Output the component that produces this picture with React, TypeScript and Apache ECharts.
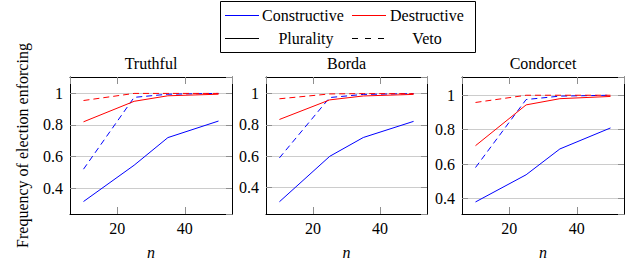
import React, { useEffect, useRef } from "react";
import * as echarts from "echarts";

const nValues = [10, 25, 35, 50];
const panelTitles = ["Truthful", "Borda", "Condorcet"];

const truthfulConstructivePlurality = [0.315, 0.545, 0.72, 0.825];
const truthfulConstructiveVeto = [0.52, 0.975, 0.995, 1.0];
const truthfulDestructivePlurality = [0.82, 0.95, 0.985, 0.995];
const truthfulDestructiveVeto = [0.955, 1.0, 1.0, 1.0];

const bordaConstructivePlurality = [0.31, 0.6, 0.72, 0.823];
const bordaConstructiveVeto = [0.59, 0.975, 0.995, 1.0];
const bordaDestructivePlurality = [0.835, 0.96, 0.985, 0.995];
const bordaDestructiveVeto = [0.967, 0.998, 1.0, 1.0];

const condorcetConstructivePlurality = [0.38, 0.538, 0.688, 0.81];
const condorcetConstructiveVeto = [0.58, 0.975, 0.995, 1.0];
const condorcetDestructivePlurality = [0.707, 0.944, 0.98, 0.993];
const condorcetDestructiveVeto = [0.958, 1.0, 1.0, 1.0];

const panelData = [
  [truthfulConstructivePlurality, truthfulConstructiveVeto, truthfulDestructivePlurality, truthfulDestructiveVeto],
  [bordaConstructivePlurality, bordaConstructiveVeto, bordaDestructivePlurality, bordaDestructiveVeto],
  [condorcetConstructivePlurality, condorcetConstructiveVeto, condorcetDestructivePlurality, condorcetDestructiveVeto],
];

const yRanges = [
  [0.236, 1.104],
  [0.232, 1.106],
  [0.31, 1.106],
];
const xRange = [6, 54];

const legendLabels = ["Constructive", "Destructive", "Plurality", "Veto"];

const FONT = "Liberation Serif";
const BLUE = "#0000ff";
const RED = "#ff0000";
const DASH = [6, 4];
const GRID_COLOR = "#cccccc";
const TICK_COLOR = "#8f8f8f";

const grids = [
  { left: 70, top: 77, width: 162, height: 137 },
  { left: 266, top: 77, width: 161, height: 137 },
  { left: 462, top: 77, width: 162, height: 137 },
];

const txt = (text: string, extra: any = {}) => ({
  text,
  fontFamily: FONT,
  fontSize: 16,
  fontWeight: "normal",
  fontStyle: "normal",
  fill: "#000",
  ...extra,
});

export default function App() {
  const ref = useRef<HTMLDivElement>(null);
  useEffect(() => {
    if (!ref.current) return;
    const chart = echarts.init(ref.current, undefined, { renderer: "svg" });

    const xAxes: any[] = [];
    const yAxes: any[] = [];
    const series: any[] = [];
    const graphics: any[] = [];

    grids.forEach((g, i) => {
      const common = {
        type: "value",
        gridIndex: i,
        min: xRange[0],
        max: xRange[1],
        splitNumber: 3,
        axisLine: { show: true, onZero: false, lineStyle: { color: "#000", width: 1 } },
        axisTick: { show: true, inside: true, length: 7, lineStyle: { color: TICK_COLOR, width: 1 } },
        splitLine: { show: false },
      };
      xAxes.push({
        ...common,
        position: "bottom",
        axisLabel: {
          show: true,
          margin: 6,
          fontFamily: FONT,
          fontSize: 16,
          fontWeight: "normal",
          color: "#000",
          showMinLabel: false,
          showMaxLabel: false,
        },
      });
      xAxes.push({ ...common, position: "top", axisLabel: { show: false } });

      const yCommon = {
        type: "value",
        gridIndex: i,
        min: yRanges[i][0],
        max: yRanges[i][1],
        splitNumber: 5,
        axisLine: { show: true, onZero: false, lineStyle: { color: "#000", width: 1 } },
        axisTick: { show: true, inside: true, length: 6, lineStyle: { color: TICK_COLOR, width: 1 } },
      };
      yAxes.push({
        ...yCommon,
        position: "left",
        splitLine: { show: true, lineStyle: { color: GRID_COLOR, width: 1 } },
        axisLabel: {
          show: true,
          margin: 7,
          fontFamily: FONT,
          fontSize: 16,
          fontWeight: "normal",
          color: "#000",
          showMinLabel: false,
          showMaxLabel: false,
        },
      });
      yAxes.push({ ...yCommon, position: "right", splitLine: { show: false }, axisLabel: { show: false } });

      const [cp, cv, dp, dv] = panelData[i];
      const defs = [
        { d: cp, color: BLUE, type: "solid" },
        { d: cv, color: BLUE, type: DASH },
        { d: dp, color: RED, type: "solid" },
        { d: dv, color: RED, type: DASH },
      ];
      defs.forEach((s) => {
        series.push({
          type: "line",
          xAxisIndex: i * 2,
          yAxisIndex: i * 2,
          data: nValues.map((n, k) => [n, s.d[k]]),
          symbol: "none",
          lineStyle: { color: s.color, width: 1, type: s.type },
          z: 3,
        });
      });

      const cx = g.left + g.width / 2;
      graphics.push({
        type: "text",
        x: cx,
        y: 63,
        style: txt(panelTitles[i], { align: "center", verticalAlign: "middle" }),
      });
      graphics.push({
        type: "text",
        x: cx,
        y: 252,
        style: txt("n", { fontStyle: "italic", align: "center", verticalAlign: "middle" }),
      });
    });

    graphics.push({
      type: "text",
      x: 22,
      y: 145.5,
      rotation: Math.PI / 2,
      style: txt("Frequency of election enforcing", { align: "center", verticalAlign: "middle" }),
    });

    const row1 = 15.5;
    const row2 = 38.5;
    graphics.push({
      type: "rect",
      shape: { x: 220.5, y: 1.5, width: 255, height: 51 },
      style: { fill: "#fff", stroke: "#000", lineWidth: 1 },
      z: 10,
    });
    const legendLine = (x1: number, x2: number, y: number, color: string, dash?: number[]) => ({
      type: "line",
      shape: { x1, y1: y, x2, y2: y },
      style: dash ? { stroke: color, lineWidth: 1, lineDash: dash } : { stroke: color, lineWidth: 1 },
      z: 11,
    });
    const legendText = (x: number, y: number, text: string, align: string) => ({
      type: "text",
      x,
      y,
      style: txt(text, { align, verticalAlign: "middle" }),
      z: 11,
    });
    graphics.push(legendLine(225, 259, row1, BLUE));
    graphics.push(legendText(262, row1, legendLabels[0], "left"));
    graphics.push(legendLine(352, 386, row1, RED));
    graphics.push(legendText(390, row1, legendLabels[1], "left"));
    graphics.push(legendLine(225, 259, row2, "#000"));
    graphics.push(legendText(306, row2, legendLabels[2], "center"));
    graphics.push(legendLine(352, 386, row2, "#000", [6, 7]));
    graphics.push(legendText(427, row2, legendLabels[3], "center"));

    chart.setOption({
      animation: false,
      backgroundColor: "#fff",
      textStyle: { fontFamily: FONT },
      grid: grids.map((g) => ({ ...g, containLabel: false })),
      xAxis: xAxes,
      yAxis: yAxes,
      series,
      graphic: graphics,
    });
    return () => chart.dispose();
  }, []);

  return (
    <div
      ref={ref}
      style={{ position: "fixed", left: 0, top: 0, width: 633, height: 265 }}
    />
  );
}
